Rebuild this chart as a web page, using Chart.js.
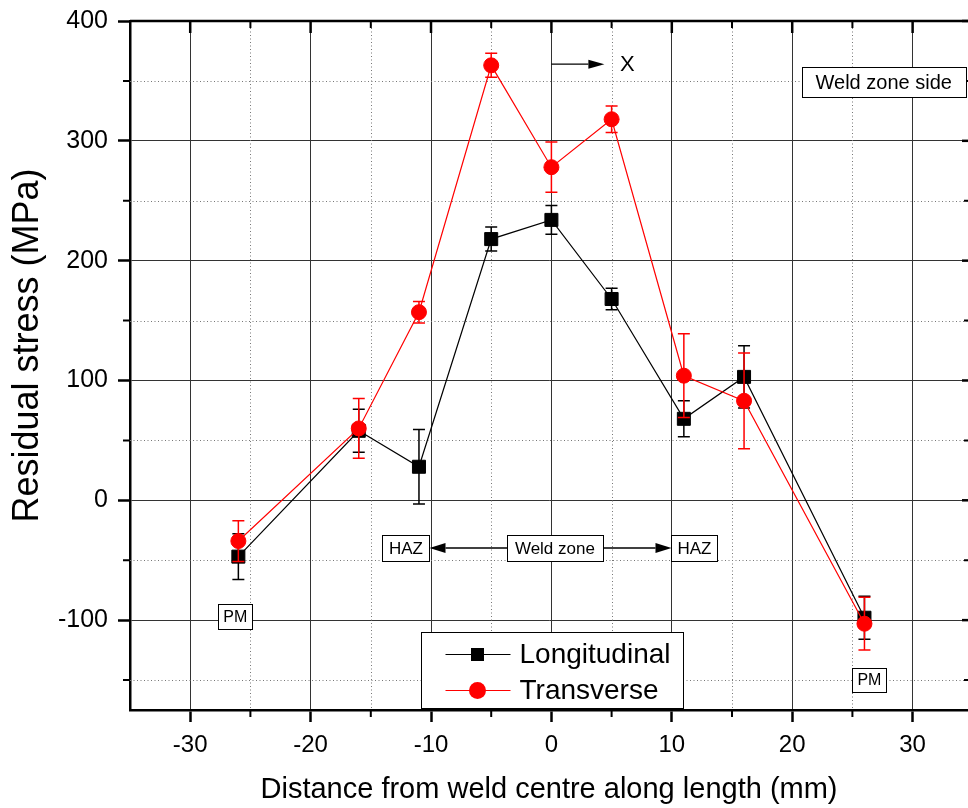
<!DOCTYPE html>
<html><head><meta charset="utf-8">
<script src="https://cdn.jsdelivr.net/npm/chart.js@4/dist/chart.umd.min.js"></script>
<style>html,body{margin:0;padding:0;background:#fff;overflow:hidden;}#wrap{width:968px;height:808px;}canvas{display:block;}</style>
</head><body><div id="wrap"><canvas id="c" width="968" height="808"></canvas></div>
<script>
// ---- data ----
const distance = [-26, -16, -11, -5, 0, 5, 11, 16, 26];
const longitudinal = [-47, 58, 28, 218, 234, 168, 68, 103, -98];
const longitudinalErr = [19, 18, 31, 10, 12, 9, 15, 26, 18];
const transverse = [-34, 60, 157, 363, 278, 318, 104, 83, -103];
const transverseErr = [17, 25, 9, 10, 21, 11, 35, 40, 22];
const xTickValues = [-30, -20, -10, 0, 10, 20, 30];
const xMinorValues = [-25, -15, -5, 5, 15, 25];
const yTickValues = [-100, 0, 100, 200, 300, 400];
const yMinorValues = [-150, -50, 50, 150, 250, 350];
const seriesNames = ['Longitudinal', 'Transverse'];

const FONT = "'Liberation Sans', Arial, sans-serif";

// annotation layout (data coordinates for anchors)
const notes = {
  side: {text: 'Weld zone side', x: 27.6, y: 349, size: 20, padX: 14, h: 30},
  hazL: {text: 'HAZ', x: -12.08, y: -39.8, size: 17, padX: 6.5, h: 26},
  weld: {text: 'Weld zone', x: 0.29, y: -39.8, size: 17, padX: 8, h: 26},
  hazR: {text: 'HAZ', x: 11.88, y: -39.8, size: 17, padX: 6, h: 26},
  pmL: {text: 'PM', x: -26.25, y: -97, size: 16, padX: 5, h: 25},
  pmR: {text: 'PM', x: 26.41, y: -150, size: 16, padX: 5, h: 24}
};
const xArrow = {x0: 0, x1: 4.4, y: 364, labelX: 6.3, label: 'X'};
const legendAnchor = {x: -10.8, y: -110};

function arrow(ctx, x0, y, x1, head, half) {
  const dir = Math.sign(x1 - x0);
  ctx.beginPath(); ctx.moveTo(x0, y); ctx.lineTo(x1 - dir * head, y); ctx.stroke();
  ctx.beginPath(); ctx.moveTo(x1, y); ctx.lineTo(x1 - dir * head, y - half);
  ctx.lineTo(x1 - dir * head, y + half); ctx.closePath(); ctx.fill();
}

const errorBars = {
  id: 'errorBars',
  afterDatasetDraw(chart, args) {
    const ds = chart.data.datasets[args.index];
    const ys = chart.scales.y, ctx = chart.ctx;
    ctx.save();
    ctx.strokeStyle = ds.borderColor; ctx.lineWidth = 1.5;
    args.meta.data.forEach((pt, i) => {
      const v = ds.data[i].y, e = ds.errors[i];
      const top = ys.getPixelForValue(v + e), bot = ys.getPixelForValue(v - e);
      ctx.beginPath();
      ctx.moveTo(pt.x, top); ctx.lineTo(pt.x, bot);
      ctx.moveTo(pt.x - 6, top); ctx.lineTo(pt.x + 6, top);
      ctx.moveTo(pt.x - 6, bot); ctx.lineTo(pt.x + 6, bot);
      ctx.stroke();
    });
    ctx.restore();
  }
};

const frame = {
  id: 'frame',
  beforeDatasetsDraw(chart) {
    const {ctx, chartArea: a, scales: {x, y}} = chart;
    ctx.save();
    ctx.strokeStyle = '#777'; ctx.lineWidth = 1; ctx.setLineDash([1, 2.5]);
    xMinorValues.forEach(v => { const p = Math.round(x.getPixelForValue(v)) + 0.5;
      ctx.beginPath(); ctx.moveTo(p, a.top); ctx.lineTo(p, a.bottom); ctx.stroke(); });
    yMinorValues.forEach(v => { const p = Math.round(y.getPixelForValue(v)) + 0.5;
      ctx.beginPath(); ctx.moveTo(a.left, p); ctx.lineTo(a.right, p); ctx.stroke(); });
    ctx.setLineDash([]);
    ctx.strokeStyle = '#000'; ctx.lineWidth = 2;
    xMinorValues.forEach(v => { const p = x.getPixelForValue(v);
      ctx.beginPath(); ctx.moveTo(p, a.bottom); ctx.lineTo(p, a.bottom + 7);
      ctx.moveTo(p, a.top); ctx.lineTo(p, a.top + 7); ctx.stroke(); });
    yMinorValues.forEach(v => { const p = y.getPixelForValue(v);
      ctx.beginPath(); ctx.moveTo(a.left, p); ctx.lineTo(a.left - 7, p);
      ctx.moveTo(a.right, p); ctx.lineTo(a.right - 4, p); ctx.stroke(); });
    ctx.lineWidth = 2.5;
    xTickValues.forEach(v => { const p = x.getPixelForValue(v);
      ctx.beginPath(); ctx.moveTo(p, a.top); ctx.lineTo(p, a.top + 12); ctx.stroke(); });
    yTickValues.forEach(v => { const p = y.getPixelForValue(v);
      ctx.beginPath(); ctx.moveTo(a.right, p); ctx.lineTo(a.right - 6, p); ctx.stroke(); });
    ctx.beginPath(); ctx.moveTo(a.left, a.top); ctx.lineTo(a.right, a.top); ctx.stroke();
    ctx.restore();
  }
};

const annotations = {
  id: 'annotations',
  afterDraw(chart) {
    const {ctx, scales: {x, y}} = chart;
    ctx.save();
    const boxes = {};
    Object.keys(notes).forEach(k => {
      const n = notes[k];
      ctx.font = n.size + 'px ' + FONT;
      const tw = ctx.measureText(n.text).width;
      const cx = x.getPixelForValue(n.x), cy = y.getPixelForValue(n.y);
      const w = tw + 2 * n.padX;
      const l = Math.round(cx - w / 2) + 0.5, t = Math.round(cy - n.h / 2) + 0.5;
      ctx.fillStyle = '#fff'; ctx.fillRect(l, t, Math.round(w), n.h);
      ctx.strokeStyle = '#000'; ctx.lineWidth = 1; ctx.strokeRect(l, t, Math.round(w), n.h);
      ctx.fillStyle = '#000'; ctx.textAlign = 'center'; ctx.textBaseline = 'middle';
      ctx.fillText(n.text, cx, cy + 1);
      boxes[k] = {l, r: l + Math.round(w), cy};
    });
    ctx.fillStyle = '#000'; ctx.strokeStyle = '#000'; ctx.lineWidth = 1.3;
    arrow(ctx, boxes.weld.l, boxes.weld.cy, boxes.hazL.r, 16, 5);
    arrow(ctx, boxes.weld.r, boxes.weld.cy, boxes.hazR.l, 16, 5);
    const ay = y.getPixelForValue(xArrow.y);
    arrow(ctx, x.getPixelForValue(xArrow.x0), ay, x.getPixelForValue(xArrow.x1), 16, 4.5);
    ctx.font = '22px ' + FONT; ctx.textAlign = 'center'; ctx.textBaseline = 'middle';
    ctx.fillText(xArrow.label, x.getPixelForValue(xArrow.labelX), ay + 1);

    const lx = Math.round(x.getPixelForValue(legendAnchor.x)) + 0.5;
    const ly = Math.round(y.getPixelForValue(legendAnchor.y)) + 0.5;
    ctx.fillStyle = '#fff'; ctx.fillRect(lx, ly, 262, 76);
    ctx.strokeStyle = '#000'; ctx.lineWidth = 1; ctx.strokeRect(lx, ly, 262, 76);
    chart.data.datasets.forEach((ds, i) => {
      const ry = ly + 22 + i * 36;
      ctx.strokeStyle = ds.borderColor; ctx.lineWidth = 1.2;
      ctx.beginPath(); ctx.moveTo(lx + 24, ry); ctx.lineTo(lx + 89, ry); ctx.stroke();
      ctx.fillStyle = ds.backgroundColor;
      if (ds.pointStyle === 'rect') ctx.fillRect(lx + 56 - 6.5, ry - 6.5, 13, 13);
      else { ctx.beginPath(); ctx.arc(lx + 56, ry, 8.5, 0, Math.PI * 2); ctx.fill(); }
      ctx.fillStyle = '#000'; ctx.font = '28px ' + FONT; ctx.textAlign = 'left'; ctx.textBaseline = 'middle';
      ctx.fillText(ds.label, lx + 98, ry + 1);
    });
    ctx.restore();
  }
};

new Chart(document.getElementById('c'), {
  type: 'line',
  data: {
    datasets: [
      {label: seriesNames[0], data: distance.map((d, i) => ({x: d, y: longitudinal[i]})), errors: longitudinalErr,
       borderColor: '#000000', backgroundColor: '#000000', borderWidth: 1.2, pointStyle: 'rect',
       pointRadius: 9.2, pointHoverRadius: 9.2, pointBorderWidth: 1, order: 2},
      {label: seriesNames[1], data: distance.map((d, i) => ({x: d, y: transverse[i]})), errors: transverseErr,
       borderColor: '#ff0000', backgroundColor: '#ff0000', borderWidth: 1.2, pointStyle: 'circle',
       pointRadius: 7.5, pointHoverRadius: 7.5, pointBorderWidth: 1, order: 1}
    ]
  },
  options: {
    responsive: false, animation: false,
    layout: {autoPadding: false, padding: {top: 21, left: 0, right: 0, bottom: 0}},
    plugins: {legend: {display: false}, tooltip: {enabled: false}},
    scales: {
      x: {
        type: 'linear', position: 'bottom', min: -35, max: 34.6,
        afterBuildTicks: a => { a.ticks = xTickValues.map(v => ({value: v})); },
        afterFit: a => { a.height = 98; a.paddingLeft = 0; a.paddingRight = 0; },
        ticks: {font: {family: FONT, size: 24}, color: '#000', padding: 9, autoSkip: false, maxRotation: 0,
                callback: v => String(v)},
        grid: {color: '#333', lineWidth: 1, tickLength: 12, tickWidth: 2.5, tickColor: '#000'},
        border: {color: '#000', width: 2.5},
        title: {display: true, text: 'Distance from weld centre along length (mm)',
                font: {family: FONT, size: 29}, color: '#000', padding: {top: 0, bottom: 1}}
      },
      y: {
        type: 'linear', position: 'left', min: -175, max: 400,
        afterBuildTicks: a => { a.ticks = yTickValues.map(v => ({value: v})); },
        afterFit: a => { a.width = 130; a.paddingTop = 0; a.paddingBottom = 0; },
        ticks: {font: {family: FONT, size: 25}, color: '#000', padding: 10, callback: v => String(v)},
        grid: {color: '#333', lineWidth: 1, tickLength: 12, tickWidth: 2.5, tickColor: '#000'},
        border: {color: '#000', width: 2.5},
        title: {display: true, text: '    Residual stress (MPa)', font: {family: FONT, size: 36}, color: '#000',
                padding: {top: 6, bottom: 0}}
      }
    }
  },
  plugins: [frame, errorBars, annotations]
});
</script>
</body></html>
